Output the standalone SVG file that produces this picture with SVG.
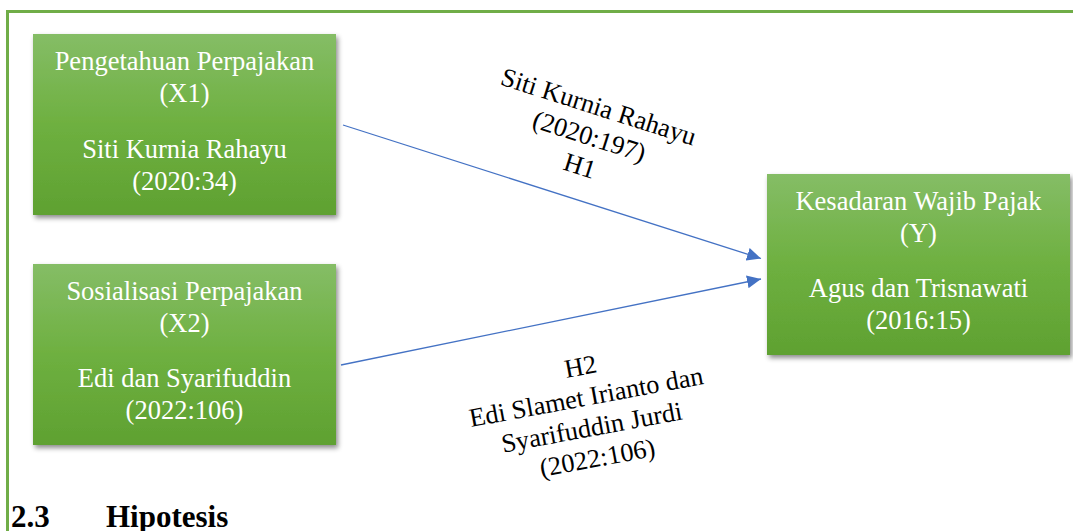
<svg xmlns="http://www.w3.org/2000/svg" width="1073" height="531" viewBox="0 0 1073 531">
<defs>
<linearGradient id="g" x1="0" y1="0" x2="0" y2="1">
<stop offset="0" stop-color="#85bd66"/>
<stop offset="0.5" stop-color="#6eb040"/>
<stop offset="1" stop-color="#5fa131"/>
</linearGradient>
<filter id="sh" x="-10%" y="-10%" width="125%" height="130%">
<feDropShadow dx="2" dy="3" stdDeviation="2.5" flood-color="#000" flood-opacity="0.45"/>
</filter>
<marker id="ah" viewBox="0 0 10 10" refX="10" refY="5" markerWidth="14" markerHeight="13" markerUnits="userSpaceOnUse" orient="auto" preserveAspectRatio="none">
<path d="M0,0 L10,5 L0,10 z" fill="#4472c4"/>
</marker>
<style>
.box{fill:url(#g);filter:url(#sh)}
.bt{font-family:"Liberation Serif","Times New Roman",serif;font-size:26.5px;fill:#ffffff;text-anchor:middle}
.lt{font-family:"Liberation Serif","Times New Roman",serif;font-size:26.3px;fill:#000000;text-anchor:middle}
.con{stroke:#4472c4;stroke-width:1.3;fill:none;marker-end:url(#ah)}
.frame{stroke:#70ad47;stroke-width:3;fill:none}
</style>
</defs>
<rect width="1073" height="531" fill="#ffffff"/>
<path class="frame" d="M7.5,531 L7.5,11.5 L1073,11.5"/>
<g id="x1">
<rect class="box" x="33" y="34" width="303" height="181"/>
<text class="bt" x="184.5" y="70">Pengetahuan Perpajakan</text>
<text class="bt" x="184.5" y="102">(X1)</text>
<text class="bt" x="184.5" y="158">Siti Kurnia Rahayu</text>
<text class="bt" x="184.5" y="190">(2020:34)</text>
</g>
<g id="x2">
<rect class="box" x="33" y="264" width="303" height="181"/>
<text class="bt" x="184.5" y="300">Sosialisasi Perpajakan</text>
<text class="bt" x="184.5" y="332">(X2)</text>
<text class="bt" x="184.5" y="387">Edi dan Syarifuddin</text>
<text class="bt" x="184.5" y="419">(2022:106)</text>
</g>
<g id="y">
<rect class="box" x="767" y="174" width="303" height="181"/>
<text class="bt" x="918.5" y="210">Kesadaran Wajib Pajak</text>
<text class="bt" x="918.5" y="242">(Y)</text>
<text class="bt" x="918.5" y="297">Agus dan Trisnawati</text>
<text class="bt" x="918.5" y="329">(2016:15)</text>
</g>
<g id="connectors">
<line class="con" x1="343" y1="125" x2="761" y2="258.5"/>
<line class="con" x1="341" y1="365" x2="761" y2="279"/>
</g>
<g id="label-h1" transform="translate(596,115) rotate(17.6)">
<text class="lt" x="0" y="0">Siti Kurnia Rahayu</text>
<text class="lt" x="0" y="31">(2020:197)</text>
<text class="lt" x="0" y="62">H1</text>
</g>
<g id="label-h2" transform="translate(582,375) rotate(-10.5)">
<text class="lt" x="0" y="0">H2</text>
<text class="lt" x="0" y="31">Edi Slamet Irianto dan</text>
<text class="lt" x="0" y="62">Syarifuddin Jurdi</text>
<text class="lt" x="0" y="93">(2022:106)</text>
</g>
<g id="heading" font-family="Liberation Serif, Times New Roman, serif" font-weight="bold" font-size="31" fill="#000">
<text x="11" y="527">2.3</text>
<text x="106" y="527">Hipotesis</text>
</g>
</svg>
